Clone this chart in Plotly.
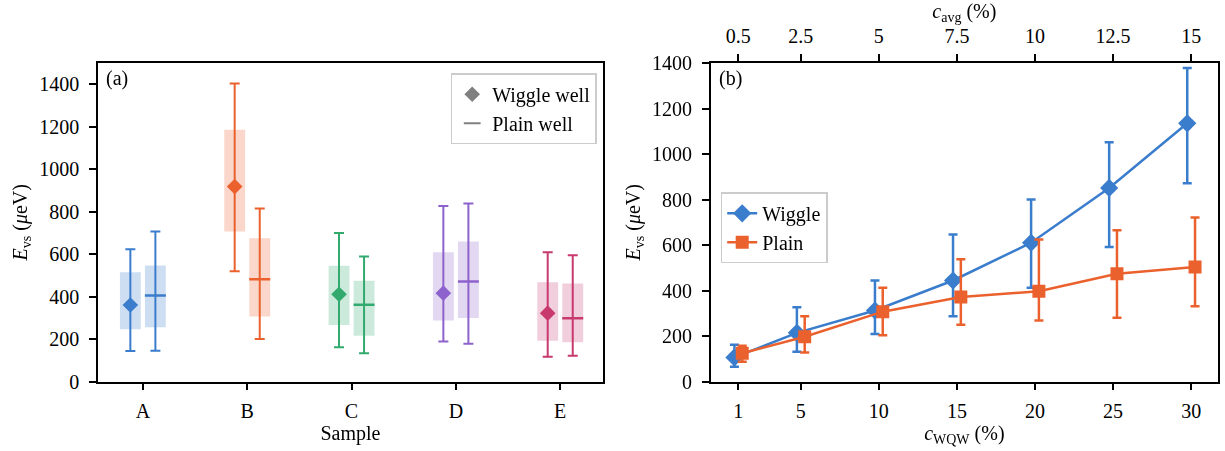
import plotly.graph_objects as go
import numpy as np

# ---------------- data: panel (a) ----------------
samples = ["A", "B", "C", "D", "E"]
colors = ["#3A7DCC", "#EB612D", "#32AA6E", "#8E62CC", "#C83A6E"]
fills = ["rgba(58,125,204,0.25)", "rgba(235,97,45,0.25)", "rgba(50,170,110,0.25)",
         "rgba(142,98,204,0.25)", "rgba(200,58,110,0.25)"]

wig_mean = [360, 918, 411, 416, 322]
wig_err_hi = [623, 1403, 699, 827, 609]
wig_err_lo = [144, 519, 161, 188, 117]
wig_box_hi = [515, 1186, 545, 609, 468]
wig_box_lo = [246, 706, 266, 287, 192]

pl_mean = [405, 482, 361, 471, 298]
pl_err_hi = [706, 815, 589, 838, 595]
pl_err_lo = [145, 200, 133, 178, 121]
pl_box_hi = [546, 675, 474, 659, 461]
pl_box_lo = [255, 306, 216, 299, 185]

# ---------------- data: panel (b) ----------------
c_wqw = [1, 5, 10, 15, 20, 25, 30]
c_avg = [0.5, 2.5, 5, 7.5, 10, 12.5, 15]
c_avg_labels = ["0.5", "2.5", "5", "7.5", "10", "12.5", "15"]
wiggle = [106, 214, 312, 444, 610, 851, 1135]
wiggle_hi = [162, 326, 444, 646, 800, 1052, 1378]
wiggle_lo = [65, 131, 209, 287, 412, 591, 871]
plain = [124, 197, 307, 371, 397, 474, 503]
plain_hi = [157, 287, 412, 537, 624, 665, 721]
plain_lo = [87, 127, 203, 250, 268, 280, 331]

FONT = "Liberation Serif"
FS = 20
off_a = 0.12
off_b = 0.25

fig = go.Figure()

# panel (a)
for i in range(len(samples)):
    xw = i - off_a
    xp = i + off_a
    fig.add_trace(go.Bar(x=[xw], y=[wig_box_hi[i] - wig_box_lo[i]], base=[wig_box_lo[i]],
                         width=0.2, marker=dict(color=fills[i], line=dict(width=0)),
                         showlegend=False, hoverinfo="skip", xaxis="x", yaxis="y"))
    fig.add_trace(go.Bar(x=[xp], y=[pl_box_hi[i] - pl_box_lo[i]], base=[pl_box_lo[i]],
                         width=0.2, marker=dict(color=fills[i], line=dict(width=0)),
                         showlegend=False, hoverinfo="skip", xaxis="x", yaxis="y"))
    fig.add_trace(go.Scatter(
        x=[xw], y=[wig_mean[i]], mode="markers",
        marker=dict(symbol="diamond", size=12, color=colors[i]),
        error_y=dict(type="data", symmetric=False,
                     array=[wig_err_hi[i] - wig_mean[i]],
                     arrayminus=[wig_mean[i] - wig_err_lo[i]],
                     color=colors[i], thickness=2, width=5),
        showlegend=False, xaxis="x", yaxis="y"))
    fig.add_trace(go.Scatter(
        x=[xp], y=[pl_mean[i]], mode="markers",
        marker=dict(symbol="line-ew", size=15, color=colors[i],
                    line=dict(width=2.5, color=colors[i])),
        error_y=dict(type="data", symmetric=False,
                     array=[pl_err_hi[i] - pl_mean[i]],
                     arrayminus=[pl_mean[i] - pl_err_lo[i]],
                     color=colors[i], thickness=2, width=5),
        showlegend=False, xaxis="x", yaxis="y"))

# legend entries for (a)
fig.add_trace(go.Scatter(x=[None], y=[None], mode="markers", name="Wiggle well",
                         marker=dict(symbol="diamond", size=11, color="#808080"),
                         legend="legend", xaxis="x", yaxis="y"))
fig.add_trace(go.Scatter(x=[None], y=[None], mode="markers", name="Plain well",
                         marker=dict(symbol="line-ew", size=6, color="#808080",
                                     line=dict(width=2.5, color="#808080")),
                         legend="legend", xaxis="x", yaxis="y"))

# panel (b)
blue = colors[0]
orange = colors[1]
xw_b = [c - off_b for c in c_wqw]
xp_b = [c + off_b for c in c_wqw]
fig.add_trace(go.Scatter(
    x=xw_b, y=wiggle, mode="lines+markers", name="Wiggle",
    line=dict(color=blue, width=2.5),
    marker=dict(symbol="diamond", size=14, color=blue),
    error_y=dict(type="data", symmetric=False,
                 array=list(np.array(wiggle_hi) - np.array(wiggle)),
                 arrayminus=list(np.array(wiggle) - np.array(wiggle_lo)),
                 color=blue, thickness=2.5, width=4.5),
    legend="legend2", xaxis="x2", yaxis="y2"))
fig.add_trace(go.Scatter(
    x=xp_b, y=plain, mode="lines+markers", name="Plain",
    line=dict(color=orange, width=2.5),
    marker=dict(symbol="square", size=13, color=orange),
    error_y=dict(type="data", symmetric=False,
                 array=list(np.array(plain_hi) - np.array(plain)),
                 arrayminus=list(np.array(plain) - np.array(plain_lo)),
                 color=orange, thickness=2.5, width=4.5),
    legend="legend2", xaxis="x2", yaxis="y2"))
# invisible trace to carry the top axis (c_avg)
fig.add_trace(go.Scatter(x=c_avg, y=wiggle, mode="markers", opacity=0,
                         showlegend=False, hoverinfo="skip", xaxis="x3", yaxis="y2"))

W, H = 1225, 451
xa_dom = [98 / W, 603 / W]
xb_dom = [710.7 / W, 1218 / W]
y_dom = [(H - 381.5) / H, (H - 63) / H]
xb_range = [-0.77, 31.72]

axis_common = dict(showline=True, linecolor="black", linewidth=1.6, ticks="outside",
                   ticklen=7, tickwidth=1.6, tickcolor="black", showgrid=False,
                   zeroline=False, automargin=False,
                   tickfont=dict(family=FONT, size=FS, color="black"))

title_font = dict(family=FONT, size=FS, color="black")

fig.update_layout(
    width=W, height=H,
    margin=dict(l=0, r=0, t=0, b=0),
    paper_bgcolor="white", plot_bgcolor="white",
    barmode="overlay",
    font=dict(family=FONT, size=FS, color="black"),
    xaxis=dict(domain=xa_dom, range=[-0.43, 4.41], tickvals=list(range(len(samples))),
               ticktext=samples, mirror=True, anchor="y",
               title=dict(text="Sample", font=title_font, standoff=4),
               ticklabelstandoff=4, **axis_common),
    yaxis=dict(domain=y_dom, range=[0, 1500], tickvals=[0, 200, 400, 600, 800, 1000, 1200, 1400],
               mirror=True, anchor="x",
               title=dict(text="<i>E</i><sub>vs</sub> (<i>μ</i>eV)", font=title_font, standoff=6),
               ticklabelstandoff=6, **axis_common),
    xaxis2=dict(domain=xb_dom, range=xb_range, tickvals=c_wqw, mirror=True, anchor="y2",
                title=dict(text="<i>c</i><sub>WQW</sub> (%)", font=title_font, standoff=4),
                ticklabelstandoff=4, **axis_common),
    xaxis3=dict(overlaying="x2", side="top", anchor="y2",
                range=[xb_range[0] / 2, xb_range[1] / 2], tickvals=c_avg, ticktext=c_avg_labels,
                title=dict(text="<i>c</i><sub>avg</sub> (%)", font=title_font, standoff=0),
                ticklabelstandoff=3, **axis_common),
    yaxis2=dict(domain=y_dom, range=[0, 1400], tickvals=[0, 200, 400, 600, 800, 1000, 1200, 1400],
                mirror=True, anchor="x2",
                title=dict(text="<i>E</i><sub>vs</sub> (<i>μ</i>eV)", font=title_font, standoff=6),
                ticklabelstandoff=6, **axis_common),
    legend=dict(x=596.7 / W, y=(H - 73.3) / H, xanchor="right", yanchor="top",
                bgcolor="rgba(255,255,255,0.8)", bordercolor="#CCCCCC", borderwidth=1.5,
                font=dict(family=FONT, size=FS, color="black"), tracegroupgap=0,
                itemsizing="constant"),
    legend2=dict(x=720.7 / W, y=(H - 192.3) / H, xanchor="left", yanchor="top",
                 bgcolor="rgba(255,255,255,0.8)", bordercolor="#CCCCCC", borderwidth=1.5,
                 font=dict(family=FONT, size=FS, color="black"), tracegroupgap=0),
    annotations=[
        dict(text="(a)", x=0.012, y=0.995, xref="x domain", yref="y domain",
             xanchor="left", yanchor="top", showarrow=False, font=title_font),
        dict(text="(b)", x=0.012, y=0.995, xref="x2 domain", yref="y2 domain",
             xanchor="left", yanchor="top", showarrow=False, font=title_font),
    ],
)

fig.write_html("out.html")
